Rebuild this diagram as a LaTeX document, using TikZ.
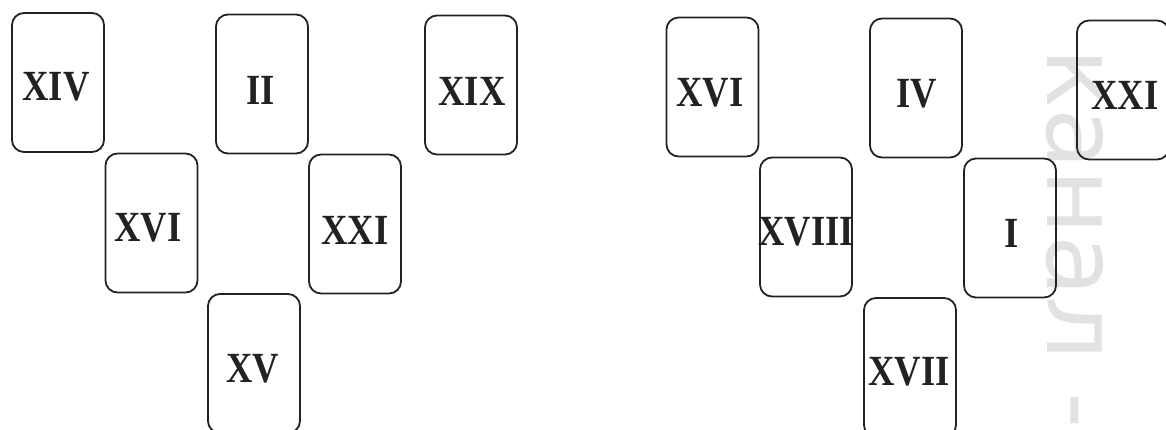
\documentclass[tikz,border=0pt]{standalone}
\usepackage{fontspec}
\setmainfont{Liberation Serif}
\newfontfamily\wmfont{DejaVu Sans}
\definecolor{inkc}{HTML}{222222}
\definecolor{wmc}{HTML}{E2E2E2}
\newcommand{\numtxt}[1]{\scalebox{0.85}[1]{#1}}
\begin{document}
\begin{tikzpicture}[x=1pt,y=-1pt,
  card/.style={draw=inkc, line width=1.8pt, rounded corners=12pt, minimum width=92pt, minimum height=139pt, inner sep=0pt},
  numeral/.style={inner sep=0pt, text=inkc, font=\bfseries\fontsize{43}{43}\selectfont},
  wmark/.style={rotate=-90, anchor=base west, inner sep=0pt, text=wmc, font=\wmfont\fontsize{100}{100}\selectfont}]
\useasboundingbox (0,0) rectangle (1166,430);
% watermark
\node[wmark] (wm) at (1047,48) {канал -};
% left spread
\node[card] (a1) at (58,82.5) {};
\node[numeral] (t1) at (56,87) {\numtxt{XIV}};
\node[card] (a2) at (262,84) {};
\node[numeral] (t2) at (261,90) {\numtxt{II}};
\node[card] (a3) at (471,85) {};
\node[numeral] (t3) at (472,91) {\numtxt{XIX}};
\node[card] (a4) at (151.5,223) {};
\node[numeral] (t4) at (148,228) {\numtxt{XVI}};
\node[card] (a5) at (355,224) {};
\node[numeral] (t5) at (355,230) {\numtxt{XXI}};
\node[card] (a6) at (254,363.5) {};
\node[numeral] (t6) at (253,369) {\numtxt{XV}};
% right spread
\node[card] (b1) at (712.5,87) {};
\node[numeral] (u1) at (710,93) {\numtxt{XVI}};
\node[card] (b2) at (916,88) {};
\node[numeral] (u2) at (917,94) {\numtxt{IV}};
\node[card] (b3) at (1123,90) {};
\node[numeral] (u3) at (1125,95) {\numtxt{XXI}};
\node[card] (b4) at (806,227) {};
\node[numeral] (u4) at (806,232) {\numtxt{XVIII}};
\node[card] (b5) at (1010,228) {};
\node[numeral] (u5) at (1012,233) {\numtxt{I}};
\node[card] (b6) at (910,367.5) {};
\node[numeral] (u6) at (909,372) {\numtxt{XVII}};
\end{tikzpicture}
\end{document}
